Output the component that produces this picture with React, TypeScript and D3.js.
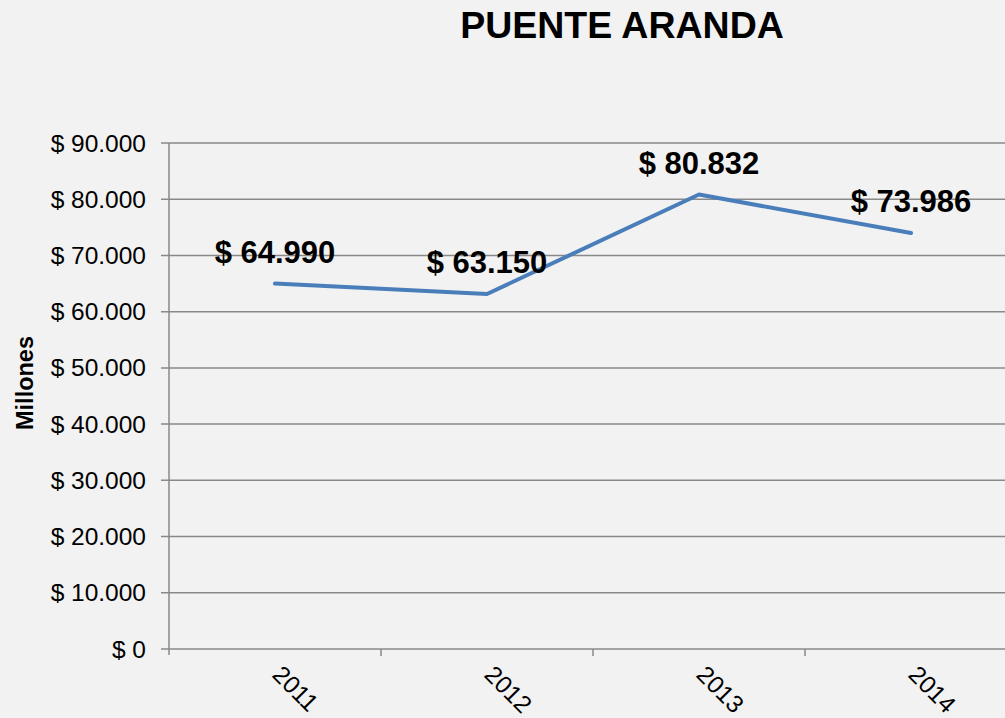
import React from "react";
import * as d3 from "d3";

const categories = ["2011", "2012", "2013", "2014"];
const values = [64990, 63150, 80832, 73986];
const dataLabels = ["$ 64.990", "$ 63.150", "$ 80.832", "$ 73.986"];
const yTicks = [0, 10000, 20000, 30000, 40000, 50000, 60000, 70000, 80000, 90000];
const yTickLabels = ["$ 0", "$ 10.000", "$ 20.000", "$ 30.000", "$ 40.000", "$ 50.000", "$ 60.000", "$ 70.000", "$ 80.000", "$ 90.000"];
const title = "PUENTE ARANDA";
const yTitle = "Millones";

const W = 1005;
const H = 718;
const FONT = "'Liberation Sans', Arial, sans-serif";

export default function App() {
  const x = d3.scaleBand<string>().domain(categories).range([169, 1017]).padding(0);
  const y = d3.scaleLinear().domain([0, 90000]).range([649, 143]);
  const cx = (c: string) => (x(c) as number) + x.bandwidth() / 2;
  const line = d3
    .line<number>()
    .x((_, i) => cx(categories[i]))
    .y((d) => y(d));
  const gridColor = "#898989";
  const boundaries = categories.map((c) => x(c) as number);

  return (
    <svg
      width={W}
      height={H}
      style={{ position: "absolute", left: 0, top: 0, background: "#f2f2f2" }}
      fontFamily={FONT}
    >
      <rect x={0} y={0} width={W} height={H} fill="#f2f2f2" />
      <text x={622} y={38} textAnchor="middle" fontSize={37.5} fontWeight="bold" fill="#000">
        {title}
      </text>
      {yTicks.map((t, i) => (
        <g key={t}>
          <line x1={161} x2={W} y1={y(t)} y2={y(t)} stroke={gridColor} strokeWidth={1.5} />
          <text x={146} y={y(t)} dy="0.35em" textAnchor="end" fontSize={24.5} fill="#000">
            {yTickLabels[i]}
          </text>
        </g>
      ))}
      <line x1={169} x2={169} y1={143} y2={655} stroke={gridColor} strokeWidth={1.5} />
      {boundaries.slice(1).map((b, i) => (
        <line key={i} x1={b} x2={b} y1={649} y2={656} stroke={gridColor} strokeWidth={1.5} />
      ))}
      {categories.map((c) => (
        <text
          key={c}
          transform={`translate(${cx(c) - 4},${676}) rotate(45)`}
          textAnchor="start"
          fontSize={24.5}
          fill="#000"
        >
          {c}
        </text>
      ))}
      <text
        transform={`translate(33,383) rotate(-90)`}
        textAnchor="middle"
        fontSize={23.5}
        fontWeight="bold"
        fill="#000"
      >
        {yTitle}
      </text>
      <path d={line(values) || ""} fill="none" stroke="#4a7ebb" strokeWidth={4} strokeLinejoin="round" strokeLinecap="round" />
      {values.map((v, i) => (
        <text
          key={i}
          x={cx(categories[i])}
          y={y(v) - 21}
          textAnchor="middle"
          fontSize={31}
          fontWeight="bold"
          fill="#000"
        >
          {dataLabels[i]}
        </text>
      ))}
    </svg>
  );
}
